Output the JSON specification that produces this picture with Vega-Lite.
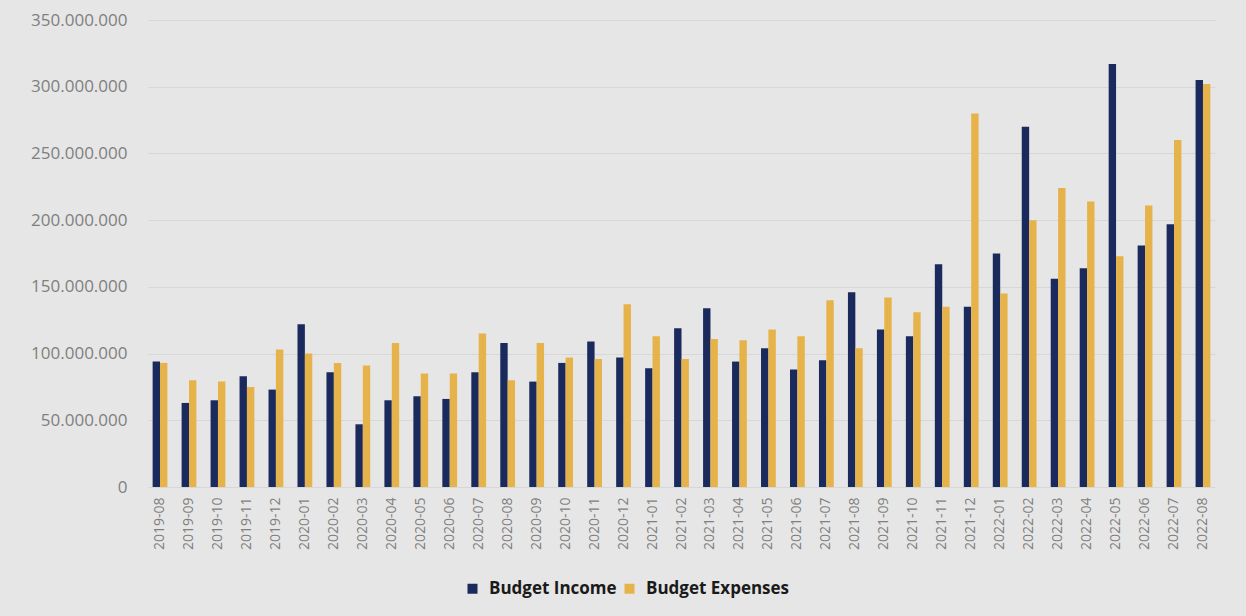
{
  "$schema": "https://vega.github.io/schema/vega-lite/v6.json",
  "width": 1067,
  "height": 467,
  "autosize": {"type": "none"},
  "padding": {"left": 148, "top": 20, "right": 31, "bottom": 129},
  "background": "#e6e6e6",
  "config": {
    "view": {"stroke": null},
    "locale": {"number": {"decimal": ",", "thousands": ".", "grouping": [3], "currency": ["", " €"]}},
    "font": "Open Sans"
  },
  "data": {
    "values": [
      {"month": "2019-08", "series": "Budget Income", "value": 94000000},
      {"month": "2019-08", "series": "Budget Expenses", "value": 93000000},
      {"month": "2019-09", "series": "Budget Income", "value": 63000000},
      {"month": "2019-09", "series": "Budget Expenses", "value": 80000000},
      {"month": "2019-10", "series": "Budget Income", "value": 65000000},
      {"month": "2019-10", "series": "Budget Expenses", "value": 79000000},
      {"month": "2019-11", "series": "Budget Income", "value": 83000000},
      {"month": "2019-11", "series": "Budget Expenses", "value": 75000000},
      {"month": "2019-12", "series": "Budget Income", "value": 73000000},
      {"month": "2019-12", "series": "Budget Expenses", "value": 103000000},
      {"month": "2020-01", "series": "Budget Income", "value": 122000000},
      {"month": "2020-01", "series": "Budget Expenses", "value": 100000000},
      {"month": "2020-02", "series": "Budget Income", "value": 86000000},
      {"month": "2020-02", "series": "Budget Expenses", "value": 93000000},
      {"month": "2020-03", "series": "Budget Income", "value": 47000000},
      {"month": "2020-03", "series": "Budget Expenses", "value": 91000000},
      {"month": "2020-04", "series": "Budget Income", "value": 65000000},
      {"month": "2020-04", "series": "Budget Expenses", "value": 108000000},
      {"month": "2020-05", "series": "Budget Income", "value": 68000000},
      {"month": "2020-05", "series": "Budget Expenses", "value": 85000000},
      {"month": "2020-06", "series": "Budget Income", "value": 66000000},
      {"month": "2020-06", "series": "Budget Expenses", "value": 85000000},
      {"month": "2020-07", "series": "Budget Income", "value": 86000000},
      {"month": "2020-07", "series": "Budget Expenses", "value": 115000000},
      {"month": "2020-08", "series": "Budget Income", "value": 108000000},
      {"month": "2020-08", "series": "Budget Expenses", "value": 80000000},
      {"month": "2020-09", "series": "Budget Income", "value": 79000000},
      {"month": "2020-09", "series": "Budget Expenses", "value": 108000000},
      {"month": "2020-10", "series": "Budget Income", "value": 93000000},
      {"month": "2020-10", "series": "Budget Expenses", "value": 97000000},
      {"month": "2020-11", "series": "Budget Income", "value": 109000000},
      {"month": "2020-11", "series": "Budget Expenses", "value": 96000000},
      {"month": "2020-12", "series": "Budget Income", "value": 97000000},
      {"month": "2020-12", "series": "Budget Expenses", "value": 137000000},
      {"month": "2021-01", "series": "Budget Income", "value": 89000000},
      {"month": "2021-01", "series": "Budget Expenses", "value": 113000000},
      {"month": "2021-02", "series": "Budget Income", "value": 119000000},
      {"month": "2021-02", "series": "Budget Expenses", "value": 96000000},
      {"month": "2021-03", "series": "Budget Income", "value": 134000000},
      {"month": "2021-03", "series": "Budget Expenses", "value": 111000000},
      {"month": "2021-04", "series": "Budget Income", "value": 94000000},
      {"month": "2021-04", "series": "Budget Expenses", "value": 110000000},
      {"month": "2021-05", "series": "Budget Income", "value": 104000000},
      {"month": "2021-05", "series": "Budget Expenses", "value": 118000000},
      {"month": "2021-06", "series": "Budget Income", "value": 88000000},
      {"month": "2021-06", "series": "Budget Expenses", "value": 113000000},
      {"month": "2021-07", "series": "Budget Income", "value": 95000000},
      {"month": "2021-07", "series": "Budget Expenses", "value": 140000000},
      {"month": "2021-08", "series": "Budget Income", "value": 146000000},
      {"month": "2021-08", "series": "Budget Expenses", "value": 104000000},
      {"month": "2021-09", "series": "Budget Income", "value": 118000000},
      {"month": "2021-09", "series": "Budget Expenses", "value": 142000000},
      {"month": "2021-10", "series": "Budget Income", "value": 113000000},
      {"month": "2021-10", "series": "Budget Expenses", "value": 131000000},
      {"month": "2021-11", "series": "Budget Income", "value": 167000000},
      {"month": "2021-11", "series": "Budget Expenses", "value": 135000000},
      {"month": "2021-12", "series": "Budget Income", "value": 135000000},
      {"month": "2021-12", "series": "Budget Expenses", "value": 280000000},
      {"month": "2022-01", "series": "Budget Income", "value": 175000000},
      {"month": "2022-01", "series": "Budget Expenses", "value": 145000000},
      {"month": "2022-02", "series": "Budget Income", "value": 270000000},
      {"month": "2022-02", "series": "Budget Expenses", "value": 200000000},
      {"month": "2022-03", "series": "Budget Income", "value": 156000000},
      {"month": "2022-03", "series": "Budget Expenses", "value": 224000000},
      {"month": "2022-04", "series": "Budget Income", "value": 164000000},
      {"month": "2022-04", "series": "Budget Expenses", "value": 214000000},
      {"month": "2022-05", "series": "Budget Income", "value": 317000000},
      {"month": "2022-05", "series": "Budget Expenses", "value": 173000000},
      {"month": "2022-06", "series": "Budget Income", "value": 181000000},
      {"month": "2022-06", "series": "Budget Expenses", "value": 211000000},
      {"month": "2022-07", "series": "Budget Income", "value": 197000000},
      {"month": "2022-07", "series": "Budget Expenses", "value": 260000000},
      {"month": "2022-08", "series": "Budget Income", "value": 305000000},
      {"month": "2022-08", "series": "Budget Expenses", "value": 302000000}
    ]
  },
  "mark": {"type": "bar"},
  "encoding": {
    "x": {
      "field": "month",
      "type": "ordinal",
      "sort": null,
      "scale": {"paddingInner": 0.49, "paddingOuter": 0.16},
      "axis": {
        "title": null,
        "labelAngle": 270,
        "labelColor": "#7f7f7f",
        "labelFontSize": 14,
        "labelPadding": 10,
        "ticks": false,
        "domain": false
      }
    },
    "xOffset": {"field": "series", "type": "nominal", "sort": ["Budget Income", "Budget Expenses"]},
    "y": {
      "field": "value",
      "type": "quantitative",
      "scale": {"domain": [0, 350000000]},
      "axis": {
        "title": null,
        "values": [0, 50000000, 100000000, 150000000, 200000000, 250000000, 300000000, 350000000],
        "format": ",d",
        "labelColor": "#7f7f7f",
        "labelFontSize": 17,
        "labelPadding": 21,
        "ticks": false,
        "domain": false,
        "gridColor": "#d7d7d7",
        "gridWidth": 1
      }
    },
    "color": {
      "field": "series",
      "type": "nominal",
      "scale": {"domain": ["Budget Income", "Budget Expenses"], "range": ["#1b2a5c", "#e6b24a"]},
      "legend": {
        "title": null,
        "orient": "none",
        "direction": "horizontal",
        "legendX": 316,
        "legendY": 560,
        "symbolType": "square",
        "symbolSize": 100,
        "symbolStrokeWidth": 0,
        "symbolOpacity": 1,
        "labelFont": "Open Sans",
        "labelFontWeight": "bold",
        "labelFontSize": 17,
        "labelColor": "#1a1a1a",
        "labelOffset": 8,
        "columnPadding": 4
      }
    }
  }
}
